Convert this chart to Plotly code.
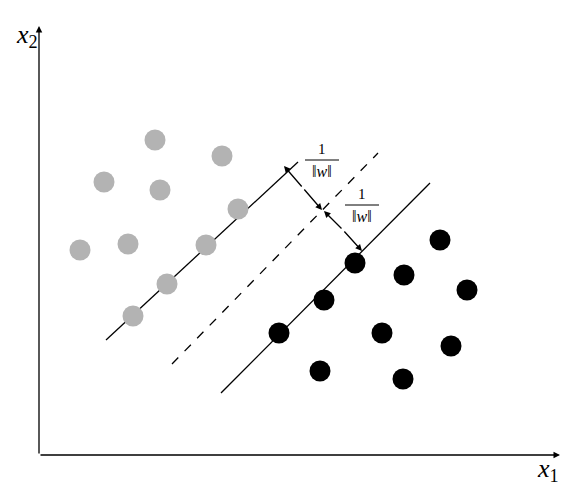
import plotly.graph_objects as go

gray_x = [155, 222, 104, 160, 238, 80, 128, 206, 167, 133]
gray_y = [140, 156, 182, 190, 209, 250, 244, 245, 284, 316]
black_x = [440, 355, 404, 467, 324, 279, 382, 451, 320, 403]
black_y = [240, 263, 275, 290, 300, 333, 333, 346, 371, 379]

upper_line = ([106, 298], [340, 162])
mid_line = ([172, 378], [364, 153])
lower_line = ([221, 430], [393, 183])

fig = go.Figure()
fig.add_trace(go.Scatter(x=upper_line[0], y=upper_line[1], mode="lines", line=dict(color="black", width=1.3)))
fig.add_trace(go.Scatter(x=mid_line[0], y=mid_line[1], mode="lines", line=dict(color="black", width=1.3, dash="dash")))
fig.add_trace(go.Scatter(x=lower_line[0], y=lower_line[1], mode="lines", line=dict(color="black", width=1.3)))
fig.add_trace(go.Scatter(x=gray_x, y=gray_y, mode="markers", marker=dict(color="#b3b3b3", size=21, symbol="circle")))
fig.add_trace(go.Scatter(x=black_x, y=black_y, mode="markers", marker=dict(color="black", size=21, symbol="circle")))

ann = []
def arrow(x0, y0, x1, y1):
    ann.append(dict(x=x1, y=y1, ax=x0, ay=y0, xref="x", yref="y", axref="x", ayref="y",
                    showarrow=True, arrowhead=2, arrowsize=1, arrowwidth=1.3, arrowcolor="black", text=""))
# axes
arrow(39, 455, 39, 26)
arrow(39, 455, 560, 455)
# margin arrows
arrow(303, 188, 284, 166); arrow(303, 188, 322, 210)
arrow(343, 230, 324, 211); arrow(343, 230, 362, 251)

for (cx, cy) in [(322, 160), (362, 205)]:
    ann.append(dict(x=cx, y=cy - 11, xref="x", yref="y", text="1", showarrow=False, font=dict(family="Liberation Serif", size=15, color="black")))
    ann.append(dict(x=cx, y=cy + 11, xref="x", yref="y", text="‖<i>w</i>‖", showarrow=False, font=dict(family="Liberation Serif", size=16, color="black")))
    fig.add_shape(type="line", x0=cx - 17, x1=cx + 17, y0=cy, y1=cy, line=dict(color="black", width=1))
ann.append(dict(x=27, y=36, xref="x", yref="y", text="<i>x</i><sub>2</sub>", showarrow=False, font=dict(family="Liberation Serif", size=26, color="black")))
ann.append(dict(x=548, y=470, xref="x", yref="y", text="<i>x</i><sub>1</sub>", showarrow=False, font=dict(family="Liberation Serif", size=26, color="black")))

fig.update_layout(width=568, height=492, margin=dict(l=0, r=0, t=0, b=0), showlegend=False,
                  plot_bgcolor="white", paper_bgcolor="white", annotations=ann,
                  xaxis=dict(range=[8, 576], visible=False),
                  yaxis=dict(range=[500, 8], visible=False))
fig.write_html("out.html")
